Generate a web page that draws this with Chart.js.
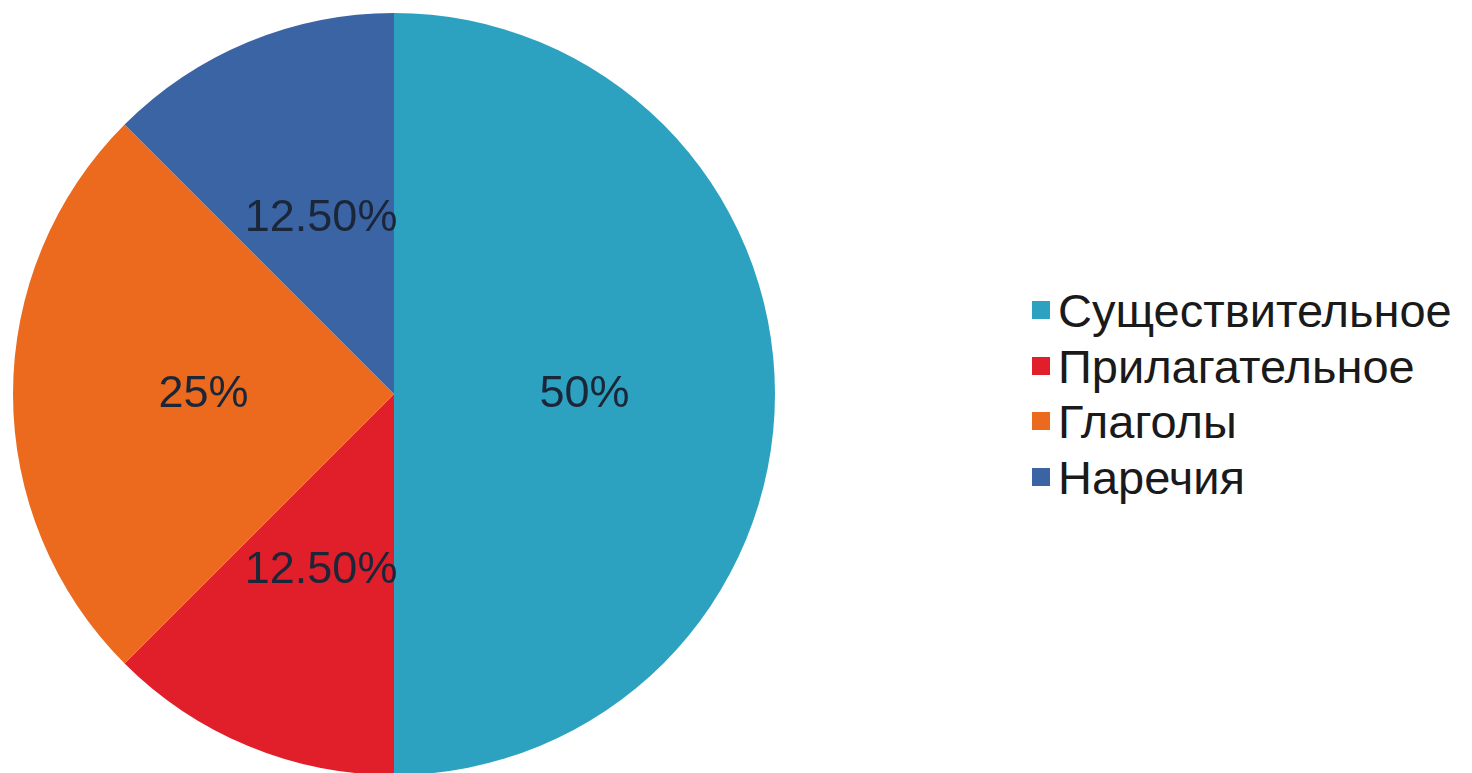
<!DOCTYPE html>
<html>
<head>
<meta charset="utf-8">
<script src="https://cdn.jsdelivr.net/npm/chart.js@4/dist/chart.umd.min.js"></script>
<style>
  html, body { margin: 0; padding: 0; background: #fff; overflow: hidden; }
  #wrap { position: absolute; left: 0; top: 0; width: 788px; height: 788px; }
  #legend { position: absolute; left: 1032px; top: 283px; font-family: "Liberation Sans", Arial, sans-serif; font-size: 47px; color: #1a1a1a; }
  #legend div { position: relative; height: 55.5px; line-height: 55.5px; white-space: nowrap; padding-left: 26px; }
  #legend span.box { position: absolute; left: 0; top: 18px; width: 18px; height: 18px; }
</style>
</head>
<body>
<div id="wrap"><canvas id="pie"></canvas></div>
<div id="legend"></div>
<script>
// Chart data
const categories = ['Существительное', 'Прилагательное', 'Глаголы', 'Наречия'];
const shares = [50, 12.5, 25, 12.5];
const valueLabels = ['50%', '12.50%', '25%', '12.50%'];
const colors = ['#2da2c0', '#e01f2b', '#ec6a1d', '#3b64a4'];

// Draws the percentage text in the middle of each slice
const sliceLabels = {
    id: 'sliceLabels',
    afterDatasetsDraw(chart) {
        const ctx = chart.ctx;
        const meta = chart.getDatasetMeta(0);
        ctx.save();
        ctx.font = '45px "Liberation Sans", Arial, sans-serif';
        ctx.fillStyle = '#1b2638';
        ctx.textAlign = 'center';
        ctx.textBaseline = 'middle';
        meta.data.forEach((arc, i) => {
            const p = arc.tooltipPosition();
            ctx.fillText(valueLabels[i], p.x, p.y + 1);
        });
        ctx.restore();
    }
};

const ctx = document.getElementById('pie').getContext('2d');
const chart = new Chart(ctx, {
    type: 'pie',
    data: {
        labels: categories,
        datasets: [
            {
                data: shares,
                backgroundColor: colors,
                borderWidth: 0,
            },
        ],
    },
    options: {
        responsive: true,
        maintainAspectRatio: false,
        animation: false,
        layout: { padding: 13 },
        plugins: {
            legend: { display: false },
            tooltip: { enabled: false }
        },
    },
    plugins: [sliceLabels],
});

// Legend built from the same arrays
const legend = document.getElementById('legend');
categories.forEach((name, i) => {
    const row = document.createElement('div');
    const box = document.createElement('span');
    box.className = 'box';
    box.style.background = colors[i];
    row.appendChild(box);
    row.appendChild(document.createTextNode(name));
    legend.appendChild(row);
});
</script>
</body>
</html>
